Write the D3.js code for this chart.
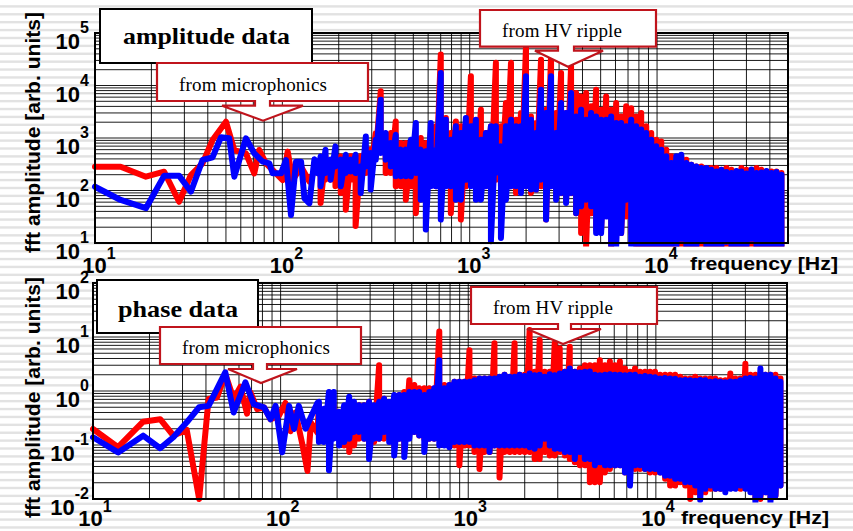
<!DOCTYPE html>
<html><head><meta charset="utf-8">
<script src="https://d3js.org/d3.v7.min.js"></script>
<style>body{margin:0;background:#fff}svg{display:block}</style>
</head><body>
<svg id="c" width="853" height="531"></svg>
<script>
// ---------------- data ----------------
const xTickExps = [1, 2, 3, 4];
const ampYExps = [1, 2, 3, 4, 5];
const phaseYExps = [-2, -1, 0, 1, 2];

// low-frequency FFT points [Hz, value]
const ampRedLow = [[10,284],[13.7,284],[18.7,183],[23.4,228],[28.1,61],[32.5,197],[37.5,329],[42.4,916],[50,2046],[55.4,590],[63.9,510],[70.8,212],[75.3,590],[81.8,329],[92.5,212],[100.4,158],[106.8,550],[113.5,158],[125.9,284],[139.4,148],[152,284]];
const ampBlueLow = [[10,118],[13.7,66],[18.7,46],[23.4,192],[28.1,192],[32.5,95],[37.5,381],[42.4,428],[47,1030],[52.1,986],[55.4,183],[63.9,986],[70.8,510],[78.5,354],[85.2,329],[88.8,212],[98.4,212],[104.6,381],[111.2,34],[118.3,354],[125.9,354],[131.2,71],[139.4,57],[148.3,393],[155,212]];
const phaseRedLow = [[10,0.198],[13.6,0.091],[18.5,0.27],[22.8,0.30],[26.8,0.15],[31.6,0.19],[36.8,0.01],[41.3,0.71],[45.8,0.76],[50.7,2.06],[56.2,0.71],[61.1,1.2],[66.2,0.38],[69,0.94],[75,0.46],[81.5,0.5],[88.4,0.3],[98,0.35],[106,0.6],[113,0.18],[120,0.4],[131,0.097],[139,0.033],[145,0.26],[157,0.17]];
const phaseBlueLow = [[10,0.139],[13.6,0.073],[18.5,0.149],[22.8,0.087],[26.8,0.139],[31.6,0.263],[36.8,0.5],[41.3,0.53],[50.7,2.22],[56.2,0.4],[64.9,1.45],[71.9,0.57],[81.5,0.5],[88.4,0.3],[94,0.53],[102,0.073],[111,0.53],[118,0.198],[125,0.53],[136,0.2],[145,0.33],[157,0.6]];

// dense part: per frequency column, max (Hi) and min (Lo) of the spectrum
const gridFreq = [160,170,181,192,205,218,232,246,262,279,
296,315,335,356,379,403,429,456,485,516,
548,583,620,659,701,746,793,844,897,954,
1015,1079,1148,1221,1298,1380,1468,1561,1661,1766,
1878,1997,2124,2259,2403,2555,2718,2890,3074,3269,
3476,3697,3932,4181,4447,4729,5029,5349,5689,6050,
6434,6842,7278,7740,8231,8754,9310,9901,10530,11200,
11910,12670,13470,14330,15240,16200,17230,18330,19490,20730,
22050,23450,24940,26520,28210,30000,31900,33930,36080,38370,
40810,43400,46150];

const ampRedHi = [386,447,333,386,447,447,447,333,447,693,
600,1245,7800,929,1245,2070,800,800,600,800,
1000,800,1245,1670,38800,2400,1245,2070,1670,1930,
15000,1245,3460,1245,1670,27000,1670,4640,27000,2230,
2990,55700,2580,1930,31000,3460,38800,2990,17300,2990,
23200,7200,6200,7200,4010,8300,3460,6200,3460,4640,
2580,4010,3700,2580,2990,1670,1245,929,860,600,
447,386,447,386,310,288,288,267,267,267,
248,267,248,230,267,248,230,267,248,230,
230,230,215];
const ampRedLo = [58,161,161,120,90,43,161,21,161,215,
215,447,693,215,215,120,120,67,120,37,
120,120,161,120,215,161,37,120,28,120,
161,120,120,120,120,161,120,120,120,90,
104,120,90,104,120,28,120,90,90,67,
90,37,15.5,8.6,37,18,18,37,8.6,15.5,
15.5,32,15.5,8.6,8.6,8.6,8.6,8.6,8.6,8.6,
8.6,8.6,8.6,8.6,8.6,8.6,8.6,8.6,8.6,8.6,
8.6,8.6,8.6,8.6,8.6,8.6,8.6,8.6,8.6,8.6,
8.6,8.6,8.6];
const ampBlueHi = [447,600,386,693,386,480,386,480,288,1070,
518,929,5370,1245,800,1150,600,600,929,1930,
600,560,1930,600,17300,2230,929,1670,1245,2400,
1670,2230,929,1245,1670,1670,693,1670,2230,1670,
1670,15000,2230,1245,8300,2990,15000,1245,4640,2990,
7200,2580,3460,2230,2990,2580,2230,2230,2580,1930,
1930,1670,2230,1670,1450,1245,929,693,600,447,
333,447,480,333,310,288,267,267,248,230,
248,225,215,235,230,210,250,215,220,235,
215,225,200];
const ampBlueLo = [120,215,161,288,120,215,230,215,90,288,
104,386,518,386,288,186,186,186,186,215,
67,18,120,120,28,120,120,67,67,161,
120,67,67,120,10.8,215,12.5,67,120,120,
90,120,104,104,161,28,120,67,90,58,
90,37,50,67,50,15.5,15.5,32,8.6,8.6,
15.5,67,8.6,8.6,8.6,9,8.6,8.6,9,8.6,
9,8.5,12,8.6,9,8.6,11,8.6,8.6,9,
8.6,10.5,8.6,9,8.6,8.6,12,8.6,9,8.6,
8.6,9,8.6];

const phaseRedHi = [0.545,0.41,0.47,0.545,0.41,0.47,0.63,0.545,0.545,0.545,
0.63,0.47,3.0,0.72,0.545,0.72,0.84,0.96,1.58,1.29,
1.12,1.12,1.12,1.12,12.6,1.29,1.29,1.49,1.49,1.49,
5.7,1.71,1.71,1.71,1.71,7.7,1.71,2.0,1.71,7.7,
2.0,2.0,13.5,2.28,8.8,2.28,2.28,7.7,6.2,2.28,
6.6,2.28,2.6,3.0,3.0,3.0,3.7,3.0,3.5,3.0,
3.5,2.6,2.28,2.6,2.28,2.28,2.28,2.28,2.0,2.0,
2.0,2.0,1.84,1.71,1.71,1.84,1.71,1.71,1.71,1.71,
1.58,1.58,2.1,1.71,1.71,3.2,2.0,2.0,2.0,2.0,
2.0,2.0,1.71];
const phaseRedLo = [0.131,0.174,0.131,0.174,0.131,0.098,0.074,0.098,0.131,0.131,
0.098,0.114,0.131,0.131,0.15,0.098,0.131,0.074,0.174,0.174,
0.15,0.131,0.131,0.131,0.131,0.131,0.114,0.098,0.042,0.098,
0.098,0.074,0.036,0.074,0.074,0.098,0.025,0.074,0.074,0.074,
0.074,0.074,0.074,0.055,0.055,0.074,0.064,0.064,0.074,0.064,
0.055,0.048,0.042,0.042,0.0205,0.0205,0.0205,0.031,0.036,0.042,
0.042,0.031,0.036,0.036,0.036,0.036,0.031,0.031,0.031,0.0236,
0.0177,0.0177,0.0205,0.0177,0.01,0.0133,0.0115,0.0133,0.0154,0.0154,
0.0154,0.0154,0.0177,0.0177,0.0154,0.0177,0.0154,0.01,0.01,0.0133,
0.01,0.0115,0.0177];
const phaseBlueHi = [0.63,0.47,0.96,0.96,0.41,0.545,0.78,0.63,0.545,0.545,
0.63,0.545,0.63,0.72,0.63,0.84,0.84,0.84,0.96,0.96,
0.96,0.84,0.96,1.12,3.7,1.12,1.29,1.49,1.49,1.49,
1.49,1.58,1.71,1.71,1.71,1.71,1.84,2.0,1.84,1.84,
2.0,1.9,2.1,1.95,2.0,1.84,2.05,1.95,2.1,2.28,
2.6,2.28,2.2,2.28,2.3,2.0,1.95,2.0,2.05,2.0,
2.0,1.95,2.0,2.0,1.84,1.9,1.84,1.8,1.71,1.75,
1.71,1.68,1.58,1.6,1.58,1.55,1.6,1.58,1.49,1.52,
1.49,1.45,1.5,1.49,1.58,1.71,1.75,1.71,2.6,2.0,
2.0,1.71,1.49];
const phaseBlueLo = [0.114,0.114,0.034,0.131,0.098,0.114,0.131,0.174,0.174,0.131,
0.055,0.131,0.131,0.174,0.114,0.064,0.131,0.060,0.131,0.174,
0.15,0.074,0.131,0.131,0.098,0.098,0.091,0.114,0.114,0.114,
0.114,0.098,0.098,0.098,0.074,0.098,0.098,0.098,0.098,0.098,
0.098,0.098,0.091,0.085,0.098,0.131,0.098,0.085,0.085,0.074,
0.074,0.055,0.074,0.055,0.055,0.042,0.048,0.042,0.042,0.042,
0.042,0.031,0.0177,0.042,0.042,0.036,0.036,0.036,0.031,0.027,
0.027,0.0236,0.0236,0.0205,0.0205,0.0177,0.0096,0.0154,0.0177,0.0154,
0.0154,0.0133,0.0154,0.0154,0.0177,0.0154,0.0133,0.0087,0.0115,0.0133,
0.0087,0.0115,0.0177];

// ---------------- drawing ----------------
const W = 853, H = 531;
const svg = d3.select('#c');
const RED = '#ff0000', BLUE = '#0000ff', CALL = '#c0141c';
const SANS = "'Liberation Sans', Arial, sans-serif";
const SERIF = "'Liberation Serif', 'Times New Roman', serif";

svg.append('rect').attr('width', W).attr('height', H).attr('fill', '#fff');
svg.append('g').selectAll('rect').data(d3.range(-1, 68)).join('rect')
  .attr('x', 0).attr('y', k => 5.2 + 7.895 * k).attr('width', W).attr('height', 2.4)
  .attr('fill', '#e2e2e2');

function build(low, hi, lo) {
  const pts = low.map(d => [d[0], d[1]]);
  gridFreq.forEach((f, i) => { pts.push([f, hi[i]]); pts.push([f, lo[i]]); });
  return pts;
}

const panels = [
  { id: 'amp', x0: 95, x1: 788, y0: 33, y1: 243, yDom: [10, 1e5], yExps: ampYExps,
    red: build(ampRedLow, ampRedHi, ampRedLo), blue: build(ampBlueLow, ampBlueHi, ampBlueLo),
    xLabY: 273, xLabDx: 4, xTitleX: 690, xTitleY: 270, yTitleY: 132.5,
    title: 'amplitude data', tBox: [100, 9, 312, 63], tX: 123, tY: 44, tLen: 167,
    calls: [
      { box: [157, 63, 368, 101], stem: [255, 270], wingY: 105.7, wings: [222, 303], tip: [263, 120.7], text: 'from microphonics', tx: 179, ty: 91, tl: 148 },
      { box: [480, 10, 656, 46.7], stem: [558, 574], wingY: 50.7, wings: [535, 603], tip: [568, 66.7], text: 'from HV ripple', tx: 502, ty: 37.3, tl: 120 }
    ] },
  { id: 'pha', x0: 93, x1: 787, y0: 283, y1: 499, yDom: [0.01, 100], yExps: phaseYExps,
    red: build(phaseRedLow, phaseRedHi, phaseRedLo), blue: build(phaseBlueLow, phaseBlueHi, phaseBlueLo),
    xLabY: 526, xLabDx: 2, xTitleX: 681, xTitleY: 524, yTitleY: 397.5,
    title: 'phase data', tBox: [97, 280, 258, 333], tX: 118, tY: 317, tLen: 120,
    calls: [
      { box: [160, 327, 361, 364], stem: [253, 267], wingY: 369, wings: [228, 297], tip: [261, 383], text: 'from microphonics', tx: 182, ty: 354, tl: 148 },
      { box: [471, 287, 657, 324], stem: [558, 571], wingY: 329, wings: [527, 601], tip: [563, 344], text: 'from HV ripple', tx: 493, ty: 314, tl: 120 }
    ] }
];

panels.forEach(p => {
  const x = d3.scaleLog().domain([10, 5e4]).range([p.x0, p.x1]);
  const y = d3.scaleLog().domain(p.yDom).range([p.y1, p.y0]);
  const g = svg.append('g');
  g.append('rect').attr('x', p.x0).attr('y', p.y0).attr('width', p.x1 - p.x0).attr('height', p.y1 - p.y0).attr('fill', '#fff');

  // grid
  const xg = [];
  for (let e = 1; e <= 4; e++) for (let m = 1; m <= 9; m++) { const v = m * Math.pow(10, e); if (v > 10 && v < 5e4) xg.push(v); }
  const yg = [];
  const e0 = Math.round(Math.log10(p.yDom[0])), e1 = Math.round(Math.log10(p.yDom[1]));
  for (let e = e0; e < e1; e++) for (let m = 1; m <= 9; m++) { const v = m * Math.pow(10, e); if (v > p.yDom[0] * 1.0001) yg.push(v); }
  g.append('g').selectAll('line').data(xg).join('line')
    .attr('x1', d => x(d)).attr('x2', d => x(d)).attr('y1', p.y0).attr('y2', p.y1)
    .attr('stroke', '#000').attr('stroke-width', 0.9);
  g.append('g').selectAll('line').data(yg).join('line')
    .attr('x1', p.x0).attr('x2', p.x1).attr('y1', d => y(d)).attr('y2', d => y(d))
    .attr('stroke', '#000').attr('stroke-width', 0.9);

  // data
  const cid = 'clip-' + p.id;
  svg.append('clipPath').attr('id', cid).append('rect')
    .attr('x', p.x0 - 3.5).attr('y', p.y0 - 3.5).attr('width', p.x1 - p.x0 + 7).attr('height', p.y1 - p.y0 + 7);
  const line = d3.line().x(d => x(d[0])).y(d => y(d[1]));
  const dg = g.append('g').attr('clip-path', `url(#${cid})`);
  dg.append('path').attr('d', line(p.red)).attr('fill', 'none').attr('stroke', RED)
    .attr('stroke-width', 6).attr('stroke-linejoin', 'round').attr('stroke-linecap', 'round');
  dg.append('path').attr('d', line(p.blue)).attr('fill', 'none').attr('stroke', BLUE)
    .attr('stroke-width', 6).attr('stroke-linejoin', 'round').attr('stroke-linecap', 'round');

  // frame
  g.append('rect').attr('x', p.x0).attr('y', p.y0).attr('width', p.x1 - p.x0).attr('height', p.y1 - p.y0)
    .attr('fill', 'none').attr('stroke', '#000').attr('stroke-width', 2);

  // y tick labels
  const yl = g.append('g').attr('font-family', SANS).attr('font-weight', 'bold').attr('fill', '#000');
  p.yExps.forEach(e => {
    const t = yl.append('text').attr('x', 89).attr('y', y(Math.pow(10, e)) + 16).attr('text-anchor', 'end');
    t.append('tspan').attr('font-size', 22).text('10');
    t.append('tspan').attr('font-size', 16).attr('dy', -16).text(String(e));
  });
  // x tick labels
  xTickExps.forEach(e => {
    const t = yl.append('text').attr('x', x(Math.pow(10, e)) + p.xLabDx).attr('y', p.xLabY).attr('text-anchor', 'middle');
    t.append('tspan').attr('font-size', 22).text('10');
    t.append('tspan').attr('font-size', 16).attr('dy', -14).text(String(e));
  });
  yl.append('text').attr('x', p.xTitleX).attr('y', p.xTitleY).attr('font-size', 19)
    .attr('textLength', 148).attr('lengthAdjust', 'spacingAndGlyphs').text('frequency [Hz]');
  yl.append('text').attr('transform', `translate(40,${p.yTitleY}) rotate(-90)`).attr('text-anchor', 'middle')
    .attr('font-size', 19.5).attr('textLength', 241).attr('lengthAdjust', 'spacingAndGlyphs')
    .text('fft amplitude [arb. units]');

  // title box
  const [bx0, by0, bx1, by1] = p.tBox;
  g.append('rect').attr('x', bx0).attr('y', by0).attr('width', bx1 - bx0).attr('height', by1 - by0)
    .attr('fill', '#fff').attr('stroke', '#000').attr('stroke-width', 2);
  g.append('text').attr('x', p.tX).attr('y', p.tY).attr('font-family', SERIF).attr('font-weight', 'bold')
    .attr('font-size', 23).attr('textLength', p.tLen).attr('lengthAdjust', 'spacingAndGlyphs').text(p.title);

  // callouts
  p.calls.forEach(c => {
    const [cx0, cy0, cx1, cy1] = c.box;
    const path = `M${cx0},${cy0}H${cx1}V${cy1}H${c.stem[1]}V${c.wingY}H${c.wings[1]}L${c.tip[0]},${c.tip[1]}L${c.wings[0]},${c.wingY}H${c.stem[0]}V${cy1}H${cx0}Z`;
    g.append('path').attr('d', path).attr('fill', '#fff').attr('stroke', CALL).attr('stroke-width', 2.2);
    g.append('text').attr('x', c.tx).attr('y', c.ty).attr('font-family', SERIF).attr('font-size', 19)
      .attr('textLength', c.tl).attr('lengthAdjust', 'spacing').attr('fill', '#000').text(c.text);
  });
});
</script>
</body></html>
